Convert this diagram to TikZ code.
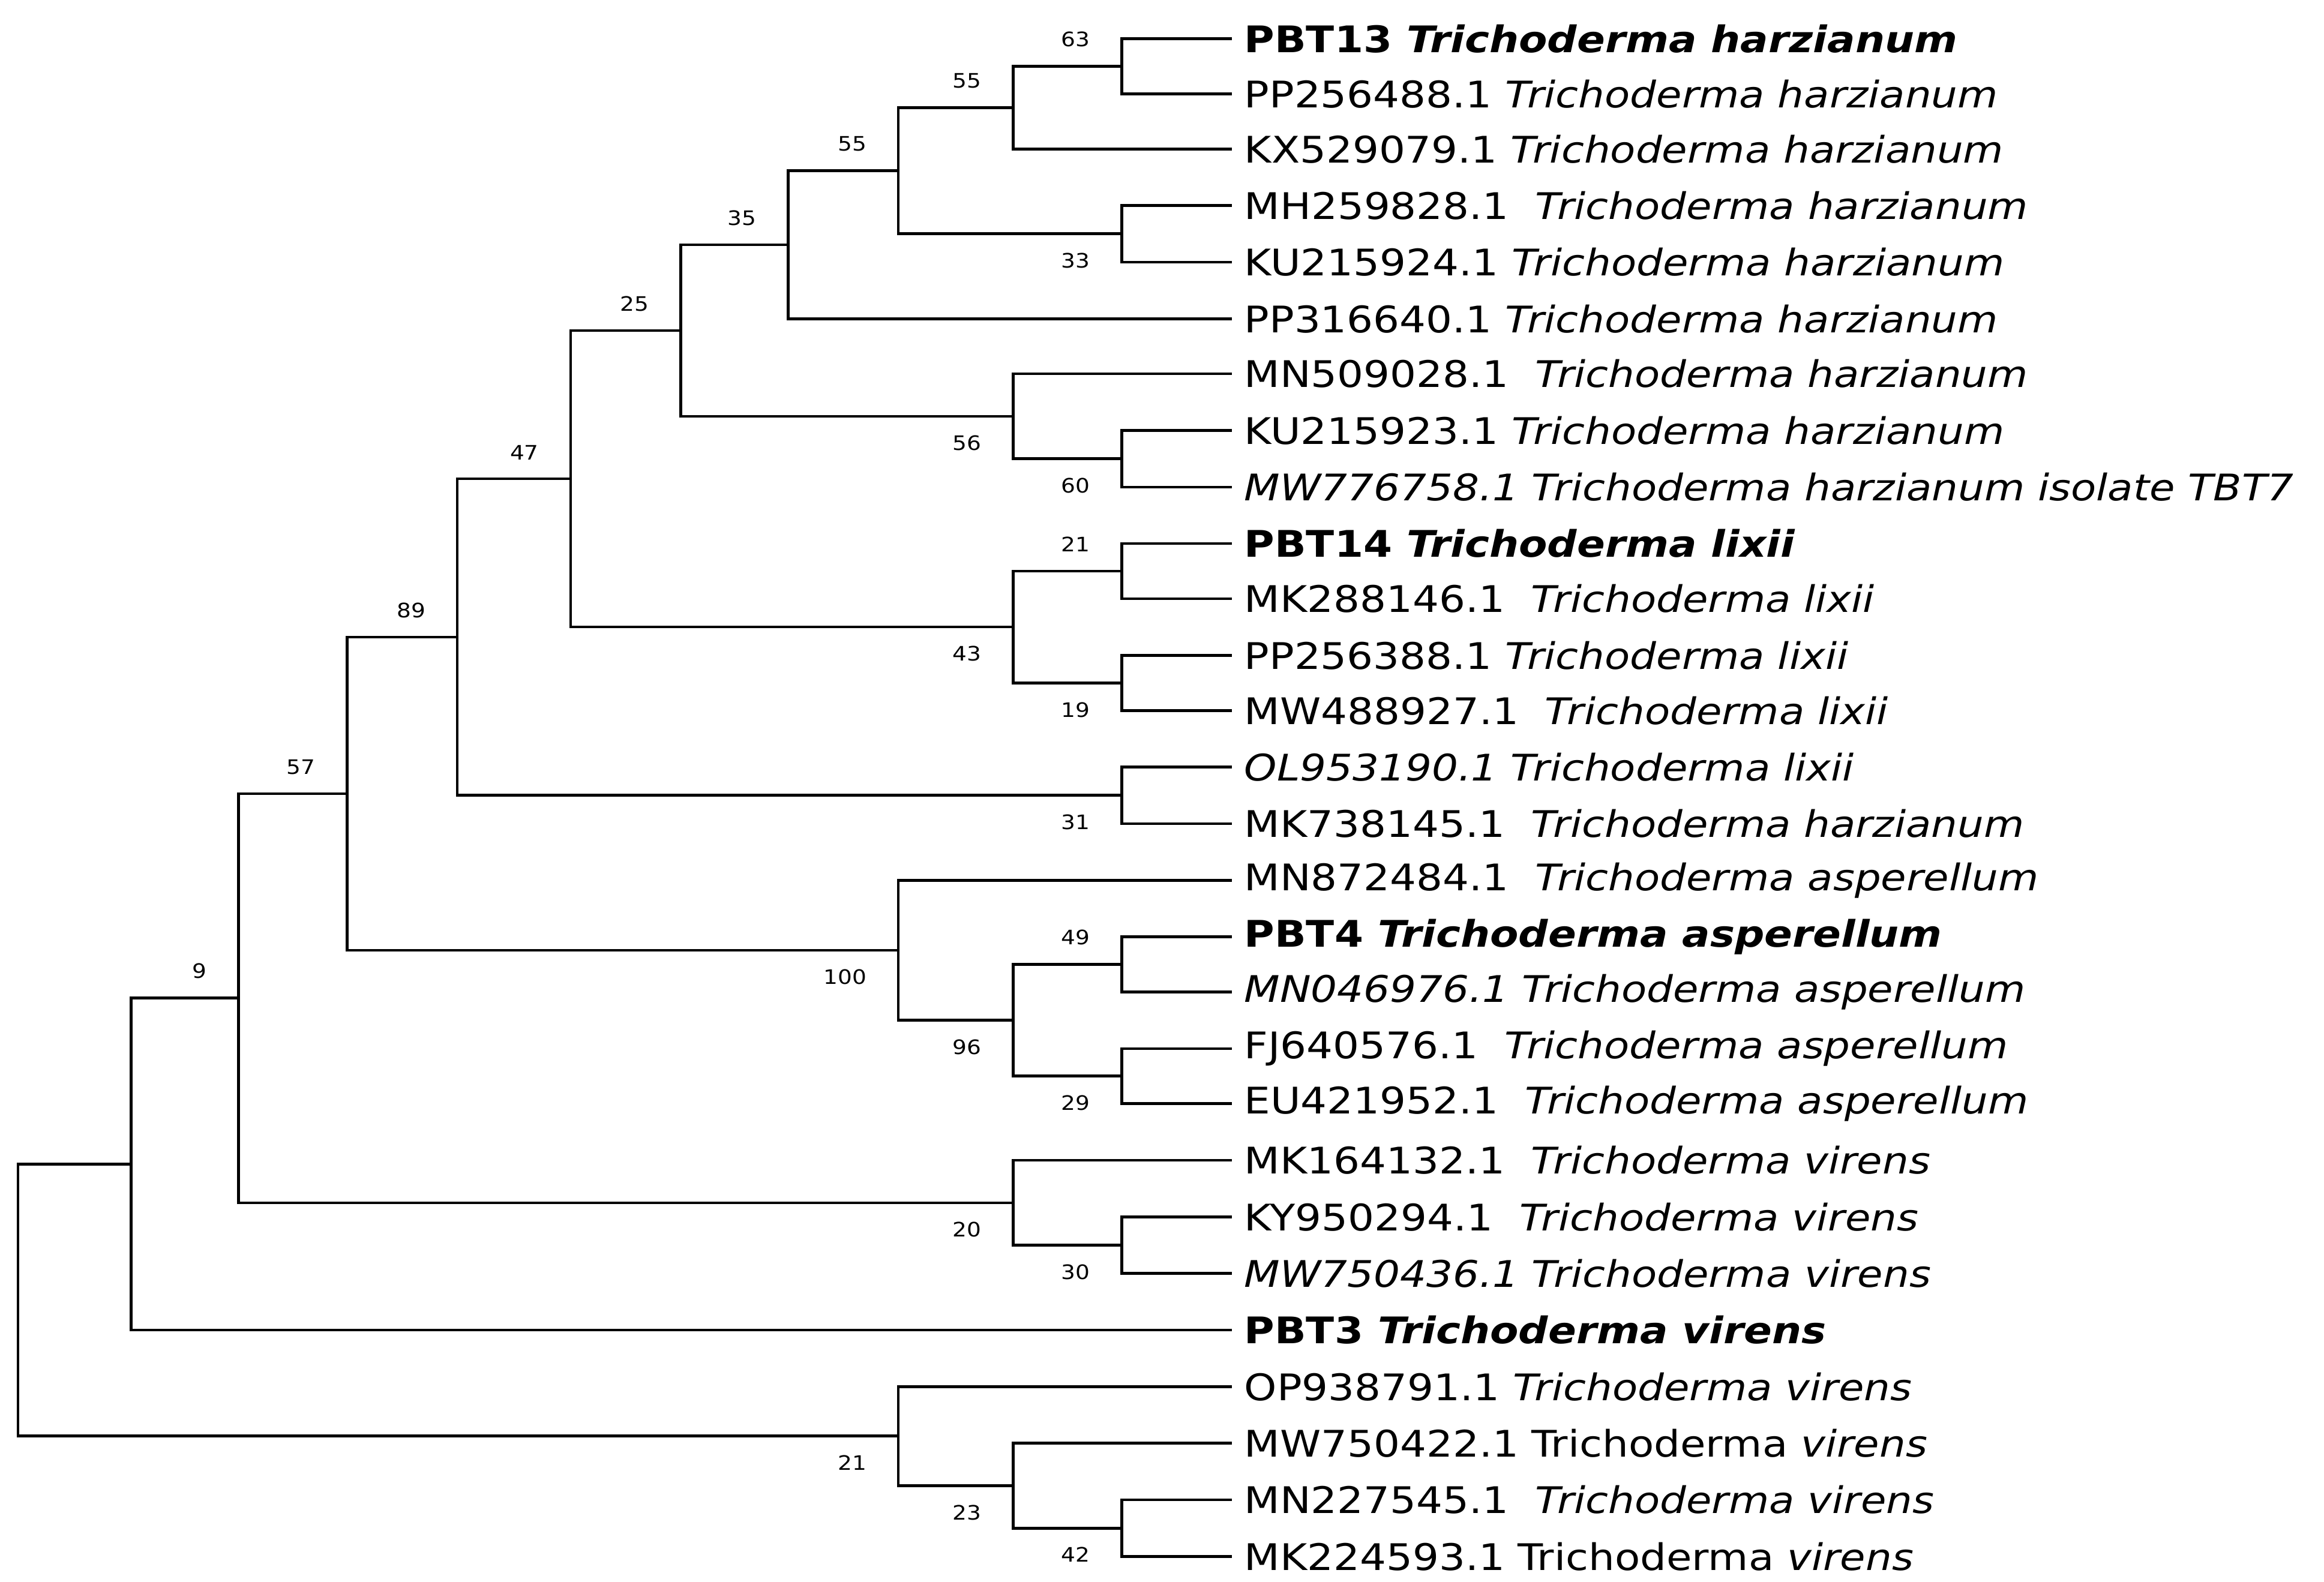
\documentclass[tikz,border=0pt]{standalone}
\usepackage{fontspec}
\setmainfont{DejaVu Sans}[FakeStretch=1.13]
\newcommand{\lfsz}{\fontsize{17.5}{20}\selectfont}
\newcommand{\bsz}{\fontsize{9.5}{11}\selectfont}
\newcommand{\lfx}[2]{#1 \textit{#2}}
\newcommand{\lfb}[2]{\textbf{#1 \textit{#2}}}
\begin{document}
\begin{tikzpicture}[x=0.025cm,y=-0.025cm,
  br/.style={line width=1.3pt},
  lf/.style={anchor=west,inner sep=0pt,font=\lfsz},
  bsa/.style={anchor=south east,inner sep=1pt,font=\bsz},
  bsb/.style={anchor=north east,inner sep=1pt,font=\bsz}]
\useasboundingbox (0,0) rectangle (1560,1062);
% leaves
\foreach \i/\y in {1/26,2/63,3/100,4/138,5/176,6/214,7/251,8/289,9/327,10/365,11/402,12/440,13/477,14/515,15/553,16/591,17/629,18/666,19/704,20/741,21/779,22/817,23/855,24/893,25/931,26/969,27/1007,28/1045}
  \coordinate (e\i) at (827,\y);
\node[lf] (t1) at (835,26) {\lfb{PBT13}{Trichoderma harzianum}};
\node[lf] (t2) at (835,63) {\lfx{PP256488.1}{Trichoderma harzianum}};
\node[lf] (t3) at (835,100) {\lfx{KX529079.1}{Trichoderma harzianum}};
\node[lf] (t4) at (835,138) {\lfx{MH259828.1\ }{Trichoderma harzianum}};
\node[lf] (t5) at (835,176) {\lfx{KU215924.1}{Trichoderma harzianum}};
\node[lf] (t6) at (835,214) {\lfx{PP316640.1}{Trichoderma harzianum}};
\node[lf] (t7) at (835,251) {\lfx{MN509028.1\ }{Trichoderma harzianum}};
\node[lf] (t8) at (835,289) {\lfx{KU215923.1}{Trichoderma harzianum}};
\node[lf] (t9) at (835,327) {\textit{MW776758.1 Trichoderma harzianum isolate TBT7}};
\node[lf] (t10) at (835,365) {\lfb{PBT14}{Trichoderma lixii}};
\node[lf] (t11) at (835,402) {\lfx{MK288146.1\ }{Trichoderma lixii}};
\node[lf] (t12) at (835,440) {\lfx{PP256388.1}{Trichoderma lixii}};
\node[lf] (t13) at (835,477) {\lfx{MW488927.1\ }{Trichoderma lixii}};
\node[lf] (t14) at (835,515) {\textit{OL953190.1} \textit{Trichoderma lixii}};
\node[lf] (t15) at (835,553) {\lfx{MK738145.1\ }{Trichoderma harzianum}};
\node[lf] (t16) at (835,591) {\lfx{MN872484.1\ }{Trichoderma asperellum}};
\node[lf] (t17) at (835,629) {\lfb{PBT4}{Trichoderma asperellum}};
\node[lf] (t18) at (835,666) {\textit{MN046976.1 Trichoderma asperellum}};
\node[lf] (t19) at (835,704) {\lfx{FJ640576.1\ }{Trichoderma asperellum}};
\node[lf] (t20) at (835,741) {\lfx{EU421952.1\ }{Trichoderma asperellum}};
\node[lf] (t21) at (835,779) {\lfx{MK164132.1\ }{Trichoderma virens}};
\node[lf] (t22) at (835,817) {\lfx{KY950294.1\ }{Trichoderma virens}};
\node[lf] (t23) at (835,855) {\textit{MW750436.1 Trichoderma virens}};
\node[lf] (t24) at (835,893) {\lfb{PBT3}{Trichoderma virens}};
\node[lf] (t25) at (835,931) {\lfx{OP938791.1}{Trichoderma virens}};
\node[lf] (t26) at (835,969) {MW750422.1\ Trichoderma \textit{virens}};
\node[lf] (t27) at (835,1007) {\lfx{MN227545.1\ }{Trichoderma virens}};
\node[lf] (t28) at (835,1045) {MK224593.1\ Trichoderma \textit{virens}};
% internal nodes
\coordinate (a63) at (753,44.5);
\coordinate (a55a) at (680,72.25);
\coordinate (a33) at (753,157);
\coordinate (a55b) at (603,114.6);
\coordinate (a55c) at (529,164.3);
\coordinate (a60) at (753,308);
\coordinate (a56) at (680,279.5);
\coordinate (a35) at (457,221.9);
\coordinate (a21) at (753,383.5);
\coordinate (a19) at (753,458.5);
\coordinate (a43) at (680,421);
\coordinate (a25) at (383,321.5);
\coordinate (a31) at (753,534);
\coordinate (a47) at (307,427.7);
\coordinate (a49) at (753,647.5);
\coordinate (a29) at (753,722.5);
\coordinate (a96) at (680,685);
\coordinate (a100) at (603,638);
\coordinate (a89) at (233,532.9);
\coordinate (a30) at (753,836);
\coordinate (a20) at (680,807.5);
\coordinate (a57) at (160,670);
\coordinate (a9) at (88,781.6);
\coordinate (a42) at (753,1026);
\coordinate (a23) at (680,997.5);
\coordinate (a21b) at (603,964);
\coordinate (root) at (12,872.8);
% branches
\foreach \p/\c in {a63/e1,a63/e2,a55a/a63,a55a/e3,a33/e4,a33/e5,a55b/a55a,a55b/a33,
  a55c/a55b,a55c/e6,a60/e8,a60/e9,a56/e7,a56/a60,a35/a55c,a35/a56,
  a21/e10,a21/e11,a19/e12,a19/e13,a43/a21,a43/a19,a25/a35,a25/a43,
  a31/e14,a31/e15,a47/a25,a47/a31,a49/e17,a49/e18,a29/e19,a29/e20,
  a96/a49,a96/a29,a100/e16,a100/a96,a89/a47,a89/a100,a30/e22,a30/e23,
  a20/e21,a20/a30,a57/a89,a57/a20,a9/a57,a9/e24,a42/e27,a42/e28,
  a23/e26,a23/a42,a21b/e25,a21b/a23,root/a9,root/a21b}
  \draw[br] (\p) |- (\c);
% bootstrap labels
\foreach \n/\v in {a63/63,a55a/55,a55b/55,a55c/35,a35/25,a25/47,a47/89,a89/57,a57/9,a21/21,a49/49}
  \node[bsa] at ([xshift=-14,yshift=8]\n) {\v};
\foreach \n/\v in {a33/33,a56/56,a60/60,a43/43,a19/19,a31/31,a100/100,a96/96,a29/29,a20/20,a30/30,a21b/21,a23/23,a42/42}
  \node[bsb] at ([xshift=-14,yshift=-8]\n) {\v};
\end{tikzpicture}
\end{document}
